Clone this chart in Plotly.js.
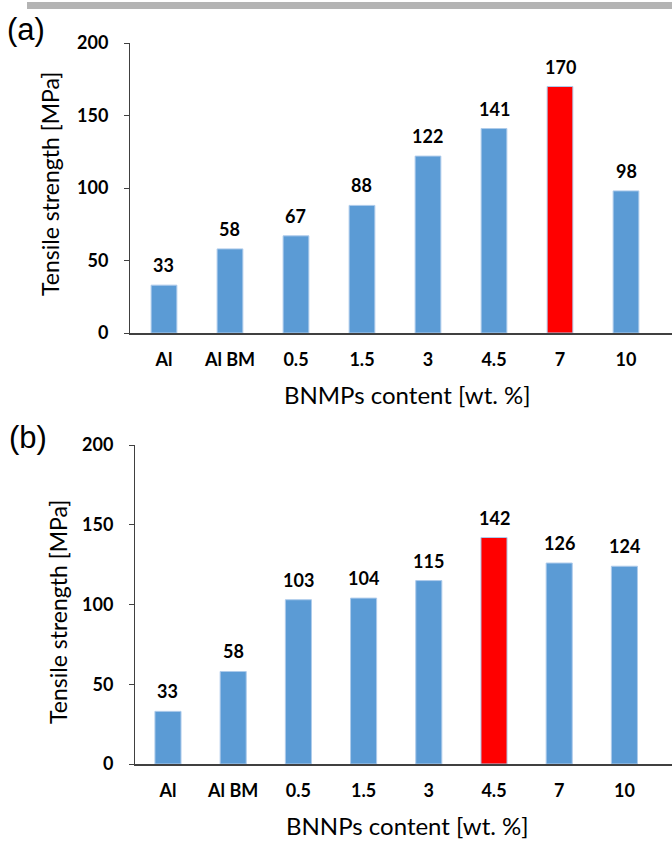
<!DOCTYPE html>
<html>
<head>
<meta charset="utf-8">
<script src="https://cdn.plot.ly/plotly-3.0.1.min.js"></script>
<style>html,body{margin:0;padding:0;background:#fff;}#chart{width:672px;height:845px;}</style>
</head>
<body>
<div id="chart"></div>
<script>
// Data
const categoriesA = ["Al", "Al BM", "0.5", "1.5", "3", "4.5", "7", "10"];
const valuesA = [33, 58, 67, 88, 122, 141, 170, 98];
const highlightA = "7";
const categoriesB = ["Al", "Al BM", "0.5", "1.5", "3", "4.5", "7", "10"];
const valuesB = [33, 58, 103, 104, 115, 142, 126, 124];
const highlightB = "4.5";
const yTicks = [0, 50, 100, 150, 200];

const BLUE = "#5b9bd5", RED = "#ff0000";
const W = 672, H = 845;
const px = v => v / W, py = v => 1 - v / H;

const tickFont = {family: "Lato, sans-serif", size: 18, color: "#000", weight: "bold"};
const xTitleFont = {family: "Lato, sans-serif", size: 24, color: "#000"};
const yTitleFont = {family: "Lato, sans-serif", size: 23, color: "#000"};

function colors(cats, hi) { return cats.map(c => c === hi ? RED : BLUE); }

const traces = [
  {type: "bar", x: categoriesA, y: valuesA, xaxis: "x", yaxis: "y", width: 0.39,
   marker: {color: colors(categoriesA, highlightA), line: {color: "#aecbeb", width: 1}}, hoverinfo: "none"},
  {type: "bar", x: categoriesB, y: valuesB, xaxis: "x2", yaxis: "y2", width: 0.4,
   marker: {color: colors(categoriesB, highlightB), line: {color: "#aecbeb", width: 1}}, hoverinfo: "none"}
];

const annotations = [];
categoriesA.forEach((c, i) => annotations.push({x: i, y: valuesA[i], xref: "x", yref: "y", text: String(valuesA[i]),
  showarrow: false, yanchor: "bottom", yshift: 7, font: tickFont}));
categoriesB.forEach((c, i) => annotations.push({x: i, y: valuesB[i], xref: "x2", yref: "y2", text: String(valuesB[i]),
  showarrow: false, yanchor: "bottom", yshift: 7, font: tickFont}));

// axis titles & panel letters
annotations.push({xref: "paper", yref: "paper", x: px(407), y: py(395), text: "BNMPs content [wt. %]", showarrow: false, font: xTitleFont, xanchor: "center", yanchor: "middle"});
annotations.push({xref: "paper", yref: "paper", x: px(408), y: py(825), text: "BNNPs content [wt. %]", showarrow: false, font: xTitleFont, xanchor: "center", yanchor: "middle"});
annotations.push({xref: "paper", yref: "paper", x: px(50), y: py(184), text: "Tensile strength [MPa]", textangle: -90, showarrow: false, font: yTitleFont, xanchor: "center", yanchor: "middle"});
annotations.push({xref: "paper", yref: "paper", x: px(58), y: py(612), text: "Tensile strength [MPa]", textangle: -90, showarrow: false, font: yTitleFont, xanchor: "center", yanchor: "middle"});
annotations.push({xref: "paper", yref: "paper", x: px(26), y: py(30), text: "(a)", showarrow: false, font: {family: "Liberation Sans, Arial, sans-serif", size: 31, color: "#000"}, xanchor: "center", yanchor: "middle"});
annotations.push({xref: "paper", yref: "paper", x: px(28), y: py(437), text: "(b)", showarrow: false, font: {family: "Liberation Sans, Arial, sans-serif", size: 31, color: "#000"}, xanchor: "center", yanchor: "middle"});

const yCommon = {range: [0, 200], tickvals: yTicks, ticktext: yTicks.map(String), showgrid: false, zeroline: false,
  showline: true, linecolor: "#404040", linewidth: 1, ticks: "outside", ticklen: 5, tickcolor: "#404040",
  tickfont: tickFont, ticklabelstandoff: 12, fixedrange: true};
const xCommon = {type: "category", showgrid: false, zeroline: false, showline: true, linecolor: "#404040", linewidth: 1.5,
  ticks: "", tickfont: tickFont, ticklabelstandoff: 10, fixedrange: true};

const layout = {
  width: W, height: H, margin: {l: 0, r: 0, t: 0, b: 0}, paper_bgcolor: "#fff", plot_bgcolor: "#fff", showlegend: false,
  font: {family: "Lato, sans-serif"},
  xaxis: Object.assign({}, xCommon, {domain: [px(130), 1], range: [-0.515, 7.697], anchor: "y"}),
  yaxis: Object.assign({}, yCommon, {domain: [py(333), py(43)], anchor: "x"}),
  xaxis2: Object.assign({}, xCommon, {domain: [px(135), 1], range: [-0.506, 7.73], anchor: "y2"}),
  yaxis2: Object.assign({}, yCommon, {domain: [py(764), py(445)], anchor: "x2"}),
  annotations: annotations,
  shapes: [{type: "rect", xref: "paper", yref: "paper", x0: px(27), x1: 1, y0: py(9), y1: py(2), fillcolor: "#b4b4b4", line: {width: 0}}]
};

Plotly.newPlot("chart", traces, layout, {staticPlot: true, displayModeBar: false});
</script>
</body>
</html>
